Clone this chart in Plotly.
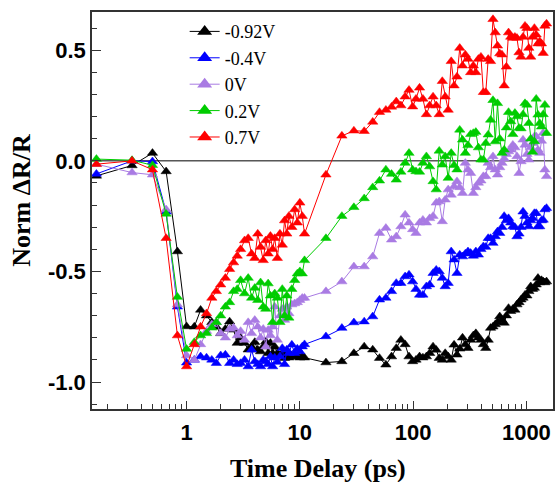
import plotly.graph_objects as go

# ---- time grid (ps) ----
t_early = [0.16, 0.33, 0.5, 0.66, 0.83, 1.0]
t_fast = [1.17, 1.33, 1.5, 1.67, 1.83, 2.0, 2.2, 2.4, 2.6, 2.8, 3.0, 3.25, 3.5, 3.75,
          4.0, 4.25, 4.5, 4.75, 5.0, 5.25, 5.5, 5.75, 6.0, 6.33, 6.67, 7.0, 7.33, 7.67,
          8.0, 8.5, 9.0, 9.5, 10.0, 10.5, 11.0]
t_mid = [17, 23.5, 30, 37, 44, 50.5, 57.5, 64.5]
t_slow = [71, 78, 85, 92, 99, 106, 114, 122, 131, 140, 150, 160, 170, 181, 192, 204,
          217, 230, 244, 258, 273, 289, 305, 322, 340, 358, 377, 397, 417, 438, 460,
          483, 507, 531, 556, 582, 609, 637, 666, 696, 727, 759, 792, 826, 861, 897,
          934, 972, 1011, 1051, 1092, 1134, 1177, 1221, 1266, 1312, 1359, 1407, 1456, 1506]
time_ps = t_early + t_fast + t_mid + t_slow

# ---- series values (normalized dR/R) ----
v_m092 = ([-0.068, -0.021, 0.035, -0.048, -0.41, -0.749]
          + [-0.75, -0.674, -0.70, -0.73, -0.75, -0.78, -0.76, -0.727, -0.764, -0.824, -0.80,
             -0.824, -0.854, -0.84, -0.82, -0.854, -0.862, -0.84, -0.817, -0.87, -0.824, -0.87,
             -0.84, -0.87, -0.88, -0.87, -0.892, -0.87, -0.89, -0.88, -0.885, -0.885, -0.89,
             -0.885, -0.89]
          + [-0.912, -0.907, -0.87, -0.84, -0.854, -0.892, -0.922, -0.885]
          + [-0.847, -0.81, -0.83, -0.885, -0.907, -0.90, -0.885, -0.89, -0.885, -0.87,
             -0.84, -0.855, -0.892, -0.90, -0.87, -0.885, -0.90, -0.832, -0.877, -0.85,
             -0.80, -0.83, -0.847, -0.81, -0.79, -0.78, -0.80, -0.81, -0.83, -0.847,
             -0.81, -0.756, -0.75, -0.74, -0.73, -0.704, -0.72, -0.733, -0.70, -0.666,
             -0.68, -0.67, -0.674, -0.65, -0.64, -0.628, -0.62, -0.606, -0.61, -0.59,
             -0.568, -0.58, -0.575, -0.56, -0.53, -0.55, -0.54, -0.546, -0.55, -0.546])

v_m04 = ([-0.059, 0.0, -0.003, -0.23, -0.66, -0.913]
         + [-0.90, -0.885, -0.89, -0.90, -0.915, -0.88, -0.877, -0.915, -0.90, -0.92, -0.915,
            -0.90, -0.93, -0.854, -0.907, -0.92, -0.93, -0.90, -0.907, -0.92, -0.885, -0.93,
            -0.89, -0.91, -0.885, -0.847, -0.92, -0.854, -0.87, -0.832, -0.87, -0.85, -0.862,
            -0.84, -0.83]
         + [-0.794, -0.756, -0.731, -0.727, -0.704, -0.628, -0.62, -0.59]
         + [-0.553, -0.553, -0.523, -0.515, -0.546, -0.58, -0.606, -0.606, -0.568, -0.56,
            -0.508, -0.493, -0.50, -0.53, -0.568, -0.553, -0.41, -0.447, -0.508, -0.425,
            -0.433, -0.42, -0.41, -0.417, -0.43, -0.41, -0.425, -0.40, -0.387, -0.39,
            -0.35, -0.35, -0.372, -0.342, -0.32, -0.327, -0.30, -0.25, -0.27, -0.26,
            -0.28, -0.297, -0.30, -0.342, -0.33, -0.30, -0.23, -0.25, -0.28, -0.297,
            -0.27, -0.26, -0.237, -0.237, -0.297, -0.297, -0.27, -0.267, -0.22, -0.214])

v_0 = ([-0.015, -0.053, -0.063, -0.22, -0.65, -0.88]
       + [-0.90, -0.83, -0.77, -0.74, -0.73, -0.78, -0.80, -0.76, -0.755, -0.79, -0.77,
          -0.81, -0.73, -0.78, -0.72, -0.75, -0.80, -0.76, -0.84, -0.765, -0.79, -0.75,
          -0.66, -0.81, -0.70, -0.67, -0.72, -0.66, -0.69, -0.65, -0.645, -0.64, -0.63,
          -0.62, -0.62]
       + [-0.59, -0.546, -0.478, -0.478, -0.433, -0.327, -0.304, -0.357]
       + [-0.342, -0.297, -0.244, -0.28, -0.31, -0.327, -0.28, -0.267, -0.28, -0.26,
          -0.25, -0.19, -0.184, -0.274, -0.176, -0.13, -0.154, -0.116, -0.093, -0.12,
          -0.146, -0.01, -0.04, -0.056, -0.146, -0.12, -0.10, -0.09, -0.07, -0.07,
          -0.01, -0.03, 0.02, -0.04, -0.063, -0.03, -0.01, 0.01, 0.03, 0.042,
          0.05, 0.072, 0.06, 0.02, -0.056, -0.003, 0.095, 0.072, 0.03, 0.005,
          0.06, 0.08, 0.11, 0.11, 0.05, 0.035, 0.09, 0.126, -0.04, -0.07])

v_02 = ([0.008, 0.003, -0.02, -0.24, -0.616, -0.851]
        + [-0.82, -0.79, -0.78, -0.755, -0.73, -0.70, -0.66, -0.64, -0.59, -0.58, -0.54,
           -0.60, -0.53, -0.62, -0.575, -0.63, -0.55, -0.66, -0.67, -0.555, -0.61, -0.73,
           -0.60, -0.62, -0.73, -0.58, -0.70, -0.61, -0.71, -0.58, -0.54, -0.51, -0.50,
           -0.51, -0.45]
        + [-0.35, -0.25, -0.21, -0.17, -0.12, -0.09, -0.04, -0.06]
        + [-0.086, -0.05, -0.01, 0.035, -0.04, -0.048, -0.05, -0.01, 0.02, -0.026,
           -0.093, -0.13, 0.045, -0.018, 0.02, -0.078, 0.035, -0.02, -0.04, 0.14,
           0.095, 0.035, 0.07, 0.12, 0.125, 0.13, 0.06, 0.005, 0.005, 0.08,
           0.118, 0.185, 0.274, 0.087, 0.26, 0.10, 0.035, 0.05, 0.15, 0.22,
           0.178, 0.12, 0.216, 0.20, 0.148, 0.146, 0.21, 0.26, 0.253, 0.17,
           0.10, 0.04, 0.087, 0.28, 0.208, 0.17, 0.154, 0.21, 0.253, 0.125])

v_07 = ([-0.015, 0.0, -0.04, -0.35, -0.79, -0.93]
        + [-0.83, -0.75, -0.69, -0.62, -0.59, -0.56, -0.53, -0.49, -0.46, -0.43, -0.40,
           -0.36, -0.35, -0.42, -0.44, -0.33, -0.39, -0.45, -0.36, -0.42, -0.34, -0.40,
           -0.35, -0.44, -0.33, -0.38, -0.27, -0.33, -0.25, -0.30, -0.22, -0.28, -0.19,
           -0.25, -0.33]
        + [-0.063, 0.113, 0.136, 0.134, 0.176, 0.22, 0.23, 0.244]
        + [0.268, 0.25, 0.29, 0.32, 0.245, 0.28, 0.33, 0.28, 0.21, 0.25,
           0.29, 0.25, 0.21, 0.36, 0.29, 0.23, 0.45, 0.34, 0.38, 0.51,
           0.43, 0.48, 0.46, 0.40, 0.43, 0.40, 0.46, 0.47, 0.31, 0.31,
           0.46, 0.45, 0.64, 0.58, 0.52, 0.485, 0.48, 0.34, 0.425, 0.58,
           0.56, 0.555, 0.56, 0.555, 0.49, 0.47, 0.56, 0.61, 0.60, 0.51,
           0.47, 0.56, 0.60, 0.57, 0.53, 0.54, 0.53, 0.487, 0.61, 0.62])

series_names = ["-0.92V", "-0.4V", "0V", "0.2V", "0.7V"]
series_values = [v_m092, v_m04, v_0, v_02, v_07]
series_colors = ["#000000", "#0000FF", "#A97BE3", "#00CC00", "#FF0000"]

x_tick_vals = [1, 10, 100, 1000]
x_tick_text = ["1", "10", "100", "1000"]
y_tick_vals = [-1.0, -0.5, 0.0, 0.5]
y_tick_text = ["-1.0", "-0.5", "0.0", "0.5"]

fig = go.Figure()
for name, vals, col in zip(series_names, series_values, series_colors):
    fig.add_trace(go.Scatter(
        x=time_ps, y=vals, mode="lines+markers", name=name, showlegend=False,
        line=dict(color=col, width=1),
        marker=dict(symbol="triangle-up", size=9, color=col, line=dict(color=col, width=0.5)),
    ))
# legend entries (larger symbols, like the reference legend)
for name, col in zip(series_names, series_colors):
    fig.add_trace(go.Scatter(
        x=[None], y=[None], mode="lines+markers", name=name,
        line=dict(color=col, width=1),
        marker=dict(symbol="triangle-up", size=13, color=col),
    ))

minor_x = [m * 10 ** e for e in range(-1, 4) for m in range(2, 10)]

fig.add_shape(type="line", xref="paper", x0=0, x1=1, yref="y", y0=0, y1=0,
              line=dict(color="#000000", width=1), layer="below")

fig.update_layout(
    width=558, height=482,
    margin=dict(l=92, r=3, t=12, b=73),
    paper_bgcolor="white", plot_bgcolor="white",
    showlegend=True,
    legend=dict(x=0.201, y=0.997, xanchor="left", yanchor="top",
                bgcolor="rgba(0,0,0,0)", borderwidth=0,
                font=dict(family="Liberation Serif", size=18, color="black"),
                tracegroupgap=0),
    xaxis=dict(type="log", range=[-0.835, 3.235], showgrid=False, zeroline=False,
               showline=True, linecolor="#333333", linewidth=1.5, mirror=True,
               ticks="inside", ticklen=8, tickwidth=1, tickcolor="#333333",
               tickvals=x_tick_vals, ticktext=x_tick_text, ticklabelstandoff=3,
               tickfont=dict(family="Liberation Sans", size=22, color="black", weight="bold"),
               minor=dict(tickvals=minor_x, ticks="inside", ticklen=5, tickwidth=1,
                          tickcolor="#333333", showgrid=False)),
    yaxis=dict(range=[-1.122, 0.673], showgrid=False, zeroline=False,
               showline=True, linecolor="#333333", linewidth=1.5, mirror=True,
               ticks="inside", ticklen=9, tickwidth=1, tickcolor="#333333",
               tickvals=y_tick_vals, ticktext=y_tick_text,
               tickfont=dict(family="Liberation Sans", size=22, color="black", weight="bold"),
               minor=dict(dtick=0.1, tick0=0, ticks="inside", ticklen=5, tickwidth=1,
                          tickcolor="#333333", showgrid=False)),
    annotations=[
        dict(text="Time Delay (ps)", xref="paper", yref="paper", x=0.49, y=-0.149,
             xanchor="center", yanchor="middle", showarrow=False,
             font=dict(family="Liberation Serif", size=26, color="black", weight="bold")),
        dict(text="Norm ΔR/R", xref="paper", yref="paper", x=-0.152, y=0.527,
             xanchor="center", yanchor="middle", textangle=-90, showarrow=False,
             font=dict(family="Liberation Serif", size=26, color="black", weight="bold")),
    ],
)

fig.write_html("out.html")
